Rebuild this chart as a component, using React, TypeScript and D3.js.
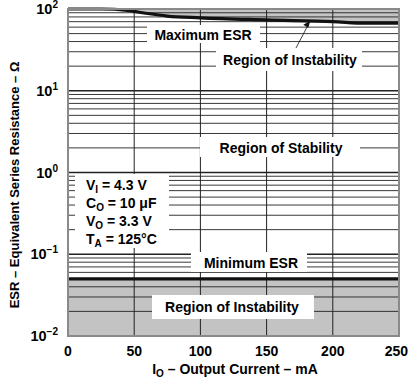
import React from "react";
import * as d3 from "d3";

const currents = [0, 25, 45, 60, 75, 100, 150, 200, 225, 250];
const maxEsr = [100, 100, 96, 88, 82, 78, 73.5, 70, 67, 67];
const minEsr = 0.05;
const xTicks = [0, 50, 100, 150, 200, 250];
const yDecades = [-2, -1, 0, 1, 2];

const W = 409;
const H = 380;
const L = 68, R = 399, T = 9, B = 336;

export default function App() {
  const x = d3.scaleLinear().domain([0, 250]).range([L, R]);
  const y = d3.scaleLog().domain([0.01, 100]).range([B, T]);
  const pts = currents.map((c, i) => [c, maxEsr[i]] as [number, number]);
  const line = d3.line<[number, number]>().x(d => x(d[0])).y(d => y(d[1])).curve(d3.curveMonotoneX);
  const area = d3.area<[number, number]>().x(d => x(d[0])).y0(T).y1(d => y(d[1])).curve(d3.curveMonotoneX);

  const minor: number[] = [];
  for (let e = -2; e < 2; e++) for (let k = 1; k <= 9; k++) minor.push(k * Math.pow(10, e));
  minor.push(100);

  const font = "'Liberation Sans', Arial, sans-serif";
  const gray = "#c3c3c3";
  const arrowEnd = [x(183), y(70) - 1];
  const fs = 14;

  return (
    <svg width={W} height={H} style={{ position: "absolute", left: 0, top: 0 }} fontFamily={font} fontWeight="bold">
      <rect x={L} y={T} width={R - L} height={B - T} fill="#fff" />
      <path d={area(pts) || ""} fill={gray} />
      <rect x={L} y={y(minEsr)} width={R - L} height={B - y(minEsr)} fill={gray} />
      {minor.map((v, i) => (
        <line key={"h" + i} x1={L} x2={R} y1={y(v)} y2={y(v)} stroke="#222" strokeWidth={Number.isInteger(Math.log10(v)) ? 1.6 : 0.9} />
      ))}
      {xTicks.slice(1, -1).map(t => (
        <line key={"v" + t} x1={x(t)} x2={x(t)} y1={T} y2={B} stroke="#222" strokeWidth={1} />
      ))}
      <path d={line(pts) || ""} fill="none" stroke="#111" strokeWidth={3.2} />
      <line x1={L} x2={R} y1={y(minEsr)} y2={y(minEsr)} stroke="#111" strokeWidth={3.2} />
      <rect x={L} y={T} width={R - L} height={B - T} fill="none" stroke="#8a8a8a" strokeWidth={2} />

      {/* labels */}
      <rect x={147} y={25} width={113} height={18} fill="#fff" />
      <text x={203} y={39.5} textAnchor="middle" fontSize={fs}>Maximum ESR</text>
      <rect x={216} y={48} width={146} height={23} fill="#fff" />
      <text x={290} y={64.5} textAnchor="middle" fontSize={fs}>Region of Instability</text>
      <line x1={296} y1={48} x2={arrowEnd[0] - 2} y2={arrowEnd[1] + 4} stroke="#111" strokeWidth={0.8} />
      <path d={`M${arrowEnd[0]},${arrowEnd[1]} l-7,4 l5,3 z`} fill="#111" />

      <rect x={200} y={137} width={160} height={20} fill="#fff" />
      <text x={281} y={152.5} textAnchor="middle" fontSize={fs}>Region of Stability</text>

      <rect x={75} y={174} width={94} height={74} fill="#fff" />
      <text x={86} y={190} fontSize={fs}>V<tspan fontSize={10} dy={3}>I</tspan><tspan dy={-3}> = 4.3 V</tspan></text>
      <text x={86} y={208} fontSize={fs}>C<tspan fontSize={10} dy={3}>O</tspan><tspan dy={-3}> = 10 μF</tspan></text>
      <text x={86} y={226} fontSize={fs}>V<tspan fontSize={10} dy={3}>O</tspan><tspan dy={-3}> = 3.3 V</tspan></text>
      <text x={86} y={244} fontSize={fs}>T<tspan fontSize={10} dy={3}>A</tspan><tspan dy={-3}> = 125°C</tspan></text>

      <rect x={191} y={252} width={116} height={20} fill="#fff" />
      <text x={251} y={267.5} textAnchor="middle" fontSize={fs}>Minimum ESR</text>

      <rect x={152} y={295} width={162} height={24} fill="#fff" />
      <text x={232} y={312} textAnchor="middle" fontSize={fs}>Region of Instability</text>

      {/* axes */}
      {xTicks.map((t, i) => {
        const last = i === xTicks.length - 1;
        return (
          <text key={"xt" + t} x={last ? 408 : x(t)} y={356} textAnchor={last ? "end" : "middle"} fontSize={fs}>{t}</text>
        );
      })}
      {yDecades.map(e => (
        <text key={"yt" + e} x={58} y={y(Math.pow(10, e)) + 5} textAnchor="end" fontSize={14.5}>
          10<tspan fontSize={10} dy={-6}>{e < 0 ? "−" + Math.abs(e) : String(e)}</tspan>
        </text>
      ))}
      <text x={235} y={374} textAnchor="middle" fontSize={fs}>I<tspan fontSize={10} dy={3}>O</tspan><tspan dy={-3}> – Output Current – mA</tspan></text>
      <text transform="translate(19,185) rotate(-90)" textAnchor="middle" fontSize={13}>ESR – Equivalent Series Resistance – Ω</text>
    </svg>
  );
}
